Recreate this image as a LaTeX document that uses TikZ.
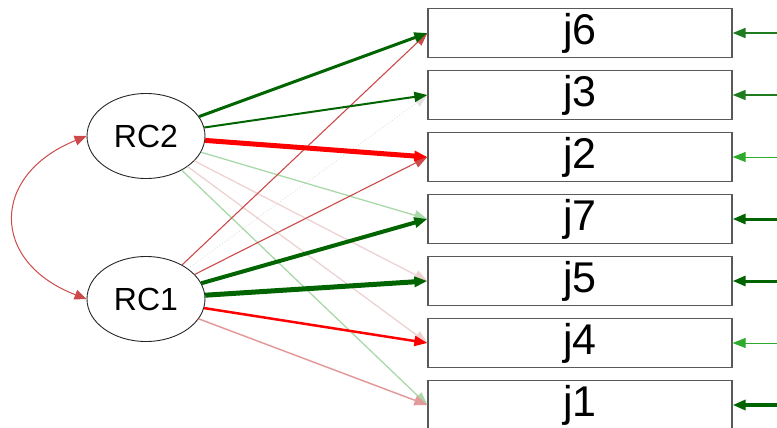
\documentclass[tikz,border=0pt]{standalone}
\usepackage{fontspec}
\setmainfont{Liberation Sans}
\usetikzlibrary{arrows.meta,shapes.geometric}

\definecolor{dkgreen}{HTML}{006400}
\definecolor{mdgreen}{HTML}{1E7B1E}
\definecolor{ltgreen}{HTML}{2EAA2E}
\definecolor{fadegreen}{HTML}{A9D8A9}
\definecolor{fadepink}{HTML}{EED2D2}
\definecolor{fadegray}{HTML}{E2E2E2}
\definecolor{softred}{HTML}{CC4A4A}
\definecolor{palered}{HTML}{E39A9A}

\tikzset{
  factor/.style={draw=black!85,ellipse,line width=0.9pt,minimum width=118pt,minimum height=85pt,inner sep=0pt,font=\fontsize{32}{32}\selectfont},
  item/.style={draw=black!65,line width=1.3pt,minimum width=304pt,minimum height=49pt,inner sep=0pt,font=\fontsize{43}{43}\selectfont},
  load/.style={-{Triangle[length=13pt,width=10pt]}},
}

\begin{document}
\begin{tikzpicture}[x=1pt,y=-1pt]
    \useasboundingbox (0,0) rectangle (777,428);
    % latent factors
    \node[factor] (rc2) at (146,136) {RC2};
    \node[factor] (rc1) at (146,299) {RC1};
    % observed items
    \node[item] (j6) at (580,33) {j6};
    \node[item] (j3) at (580,95) {j3};
    \node[item] (j2) at (580,157) {j2};
    \node[item] (j7) at (580,219) {j7};
    \node[item] (j5) at (580,281) {j5};
    \node[item] (j4) at (580,343) {j4};
    \node[item] (j1) at (580,405) {j1};
    % free ends of the residual arrows
    \foreach \j/\y in {6/33,3/95,2/157,7/219,5/281,4/343,1/405}
        \coordinate (e\j) at (777,\y);
    % covariance
    \draw[{Triangle[length=12pt,width=10pt]}-{Triangle[length=12pt,width=10pt]},softred,line width=1pt]
        (rc2.west) .. controls (-10,175) and (-10,262) .. (rc1.west);
    % weak loadings
    \draw[load,fadegray,line width=1pt,dotted] (rc1) -- (j3.west);
    \draw[load,fadepink,line width=1.3pt] (rc2) -- (j5.west);
    \draw[load,fadepink,line width=1.3pt] (rc2) -- (j4.west);
    \draw[load,fadegreen,line width=1.3pt] (rc2) -- (j7.west);
    \draw[load,fadegreen,line width=1.3pt] (rc2) -- (j1.west);
    \draw[load,palered,line width=1.5pt] (rc1) -- (j1.west);
    \draw[load,softred,line width=1.1pt] (rc1) -- (j6.west);
    \draw[load,softred,line width=1.1pt] (rc1) -- (j2.west);
    % strong loadings
    \draw[load,dkgreen,line width=3pt] (rc2) -- (j6.west);
    \draw[load,dkgreen,line width=2pt] (rc2) -- (j3.west);
    \draw[load,red,line width=5pt] (rc2) -- (j2.west);
    \draw[load,dkgreen,line width=4pt] (rc1) -- (j7.west);
    \draw[load,dkgreen,line width=5pt] (rc1) -- (j5.west);
    \draw[load,red,line width=2.5pt] (rc1) -- (j4.west);
    % residuals
    \draw[load,mdgreen,line width=2pt] (e6) -- (j6.east);
    \draw[load,mdgreen,line width=1.5pt] (e3) -- (j3.east);
    \draw[load,ltgreen,line width=1pt] (e2) -- (j2.east);
    \draw[load,dkgreen,line width=3pt] (e7) -- (j7.east);
    \draw[load,dkgreen,line width=3pt] (e5) -- (j5.east);
    \draw[load,ltgreen,line width=1pt] (e4) -- (j4.east);
    \draw[load,dkgreen,line width=4.5pt] (e1) -- (j1.east);
\end{tikzpicture}
\end{document}
